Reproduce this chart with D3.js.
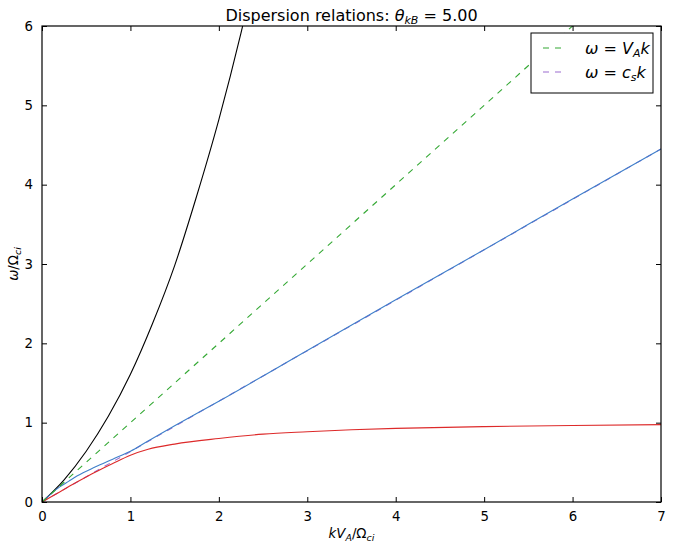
<!DOCTYPE html>
<html>
<head>
<meta charset="utf-8">
<script src="https://cdn.jsdelivr.net/npm/d3@7"></script>
<style>
  body { margin: 0; background: #fff; }
  svg text { font-family: "DejaVu Sans", sans-serif; fill: #000; }
</style>
</head>
<body>
<svg id="chart"></svg>
<script>
(() => {
  // values
  const xTicks = [0, 1, 2, 3, 4, 5, 6, 7];
  const yTicks = [0, 1, 2, 3, 4, 5, 6];

  const fastK = [0, 0.25, 0.5, 0.75, 1.0, 1.25, 1.5, 1.75, 2.0, 2.25, 2.32];
  const fastW = [0, 0.28, 0.64, 1.08, 1.61, 2.25, 2.98, 3.86, 4.82, 5.91, 6.24];

  const alfvenK = [0, 0.1, 0.2, 0.3, 0.4, 0.6, 0.8, 1.0, 1.2, 1.5, 2, 3, 4, 5, 6, 7];
  const alfvenW = [0, 0.10, 0.19, 0.26, 0.33, 0.44, 0.54, 0.64, 0.77, 0.96, 1.27, 1.91, 2.55, 3.18, 3.82, 4.45];

  const slowK = [0, 0.2, 0.4, 0.6, 0.8, 1.0, 1.2, 1.5, 2, 2.5, 3, 3.5, 4, 5, 6, 7];
  const slowW = [0, 0.127, 0.254, 0.375, 0.485, 0.59, 0.665, 0.73, 0.80, 0.855, 0.885, 0.91, 0.928, 0.95, 0.965, 0.975];

  const vaK = [0, 7];
  const vaW = [0, 7];
  const csK = [0, 7];
  const csW = [0, 4.45];

  const svgWidth = 673;
  const svgHeight = 550;
  const margin = { top: 26, left: 42, right: 12, bottom: 48 };
  const width = svgWidth - (margin.left + margin.right);
  const height = svgHeight - (margin.top + margin.bottom);

  const svg = d3.select('#chart')
    .attr('width', svgWidth)
    .attr('height', svgHeight);

  const g = svg.append('g')
    .attr('transform', `translate(${margin.left}, ${margin.top})`);

  const xScale = d3.scaleLinear().domain([0, 7]).range([0, width]);
  const yScale = d3.scaleLinear().domain([0, 6]).range([height, 0]);

  g.append('clipPath').attr('id', 'clip')
    .append('rect').attr('width', width).attr('height', height);

  const line = d3.line()
    .curve(d3.curveMonotoneX)
    .x(d => xScale(d[0]))
    .y(d => yScale(d[1]));

  const zip = (ks, ws) => ks.map((k, i) => [k, ws[i]]);

  const series = [
    { values: zip(fastK, fastW), color: '#000000', dash: null },
    { values: zip(csK, csW), color: '#9b6ccf', dash: '6,6' },
    { values: zip(alfvenK, alfvenW), color: '#3f7fca', dash: null },
    { values: zip(slowK, slowW), color: '#dd2a2a', dash: null },
    { values: zip(vaK, vaW), color: '#33a833', dash: '6,6' }
  ];

  const plot = g.append('g').attr('clip-path', 'url(#clip)');
  plot.selectAll('path')
    .data(series)
    .enter()
    .append('path')
    .attr('fill', 'none')
    .attr('stroke', d => d.color)
    .attr('stroke-width', 1.1)
    .attr('stroke-dasharray', d => d.dash)
    .attr('d', d => line(d.values));

  // axes, ticks inside on all four sides
  const styleAxis = sel => {
    sel.select('.domain').remove();
    sel.selectAll('.tick line').attr('stroke', '#000');
    sel.selectAll('.tick text').attr('font-size', '13.3px').attr('font-family', 'DejaVu Sans');
  };

  g.append('g')
    .attr('transform', `translate(0, ${height})`)
    .call(d3.axisBottom(xScale).tickValues(xTicks).tickSize(-5).tickPadding(10).tickFormat(d3.format('d')))
    .call(styleAxis);
  g.append('g')
    .call(d3.axisTop(xScale).tickValues(xTicks).tickSize(-5).tickFormat(''))
    .call(styleAxis);
  g.append('g')
    .call(d3.axisLeft(yScale).tickValues(yTicks).tickSize(-5).tickPadding(9).tickFormat(d3.format('d')))
    .call(styleAxis);
  g.append('g')
    .attr('transform', `translate(${width}, 0)`)
    .call(d3.axisRight(yScale).tickValues(yTicks).tickSize(-5).tickFormat(''))
    .call(styleAxis);

  g.append('rect')
    .attr('width', width).attr('height', height)
    .attr('fill', 'none').attr('stroke', '#000').attr('stroke-width', 1.2);

  // title
  const title = svg.append('text')
    .attr('x', margin.left + width / 2)
    .attr('y', 21)
    .attr('text-anchor', 'middle')
    .attr('font-size', '16px');
  title.append('tspan').text('Dispersion relations: ');
  title.append('tspan').attr('font-style', 'italic').text('θ');
  title.append('tspan').attr('font-style', 'italic').attr('font-size', '11px').attr('dy', 3).text('kB');
  title.append('tspan').attr('dy', -3).text(' = 5.00');

  // x label
  const xl = svg.append('text')
    .attr('x', margin.left + width / 2)
    .attr('y', 538)
    .attr('text-anchor', 'middle')
    .attr('font-size', '13.3px')
    .attr('font-style', 'italic');
  xl.append('tspan').text('kV');
  xl.append('tspan').attr('font-size', '9.5px').attr('dy', 3).text('A');
  xl.append('tspan').attr('dy', -3).attr('font-style', 'normal').text('/Ω');
  xl.append('tspan').attr('font-size', '9.5px').attr('dy', 3).text('ci');

  // y label
  const yl = svg.append('text')
    .attr('transform', `translate(18, ${margin.top + height / 2}) rotate(-90)`)
    .attr('text-anchor', 'middle')
    .attr('font-size', '13.3px')
    .attr('font-style', 'italic');
  yl.append('tspan').text('ω');
  yl.append('tspan').attr('font-style', 'normal').text('/Ω');
  yl.append('tspan').attr('font-size', '9.5px').attr('dy', 3).text('ci');

  // legend
  const legend = svg.append('g').attr('transform', 'translate(531, 33)');
  legend.append('rect')
    .attr('width', 122).attr('height', 60)
    .attr('fill', '#fff').attr('stroke', '#000').attr('stroke-width', 1);

  const legendItems = [
    { color: '#33a833', main: 'V', sub: 'A', tail: 'k' },
    { color: '#9b6ccf', main: 'c', sub: 's', tail: 'k' }
  ];
  legendItems.forEach((item, i) => {
    const y = 15 + i * 24;
    legend.append('line')
      .attr('x1', 12).attr('x2', 34).attr('y1', y).attr('y2', y)
      .attr('stroke', item.color).attr('stroke-width', 1.1).attr('stroke-dasharray', '6,6');
    const t = legend.append('text')
      .attr('x', 54).attr('y', y + 5.5)
      .attr('font-size', '16px');
    t.append('tspan').attr('font-style', 'italic').text('ω');
    t.append('tspan').text(' = ');
    t.append('tspan').attr('font-style', 'italic').text(item.main);
    t.append('tspan').attr('font-style', 'italic').attr('font-size', '11px').attr('dy', 3).text(item.sub);
    t.append('tspan').attr('font-style', 'italic').attr('dy', -3).text(item.tail);
  });
})();
</script>
</body>
</html>
